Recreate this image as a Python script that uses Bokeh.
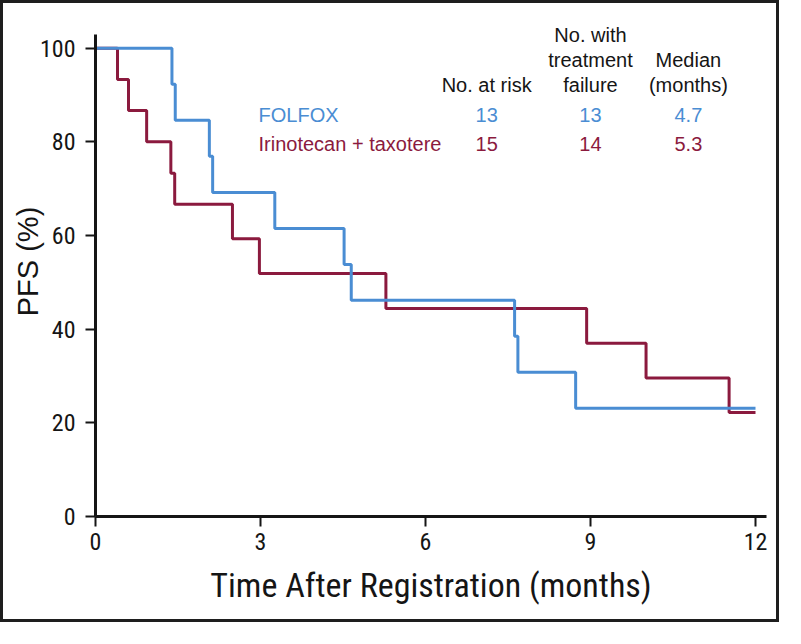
from bokeh.plotting import figure
from bokeh.models import Range1d, Label, FixedTicker
from bokeh.embed import file_html
from bokeh.resources import INLINE

# ---------------- data ----------------
folfox_t = [0, 1.39, 1.45, 2.07, 2.13, 3.26, 4.52, 4.65, 7.62, 7.68, 8.73, 12.0]
folfox_s = [100, 92.3, 84.6, 76.9, 69.2, 61.5, 53.8, 46.2, 38.5, 30.8, 23.1, 23.1]

irino_t = [0, 0.40, 0.60, 0.93, 1.37, 1.44, 2.49, 2.98, 5.28, 8.93, 10.01, 11.52, 12.0]
irino_s = [100, 93.3, 86.7, 80.0, 73.3, 66.7, 59.3, 51.9, 44.4, 37.0, 29.6, 22.2, 22.2]

arms = ["FOLFOX", "Irinotecan + taxotere"]
at_risk = ["13", "15"]
with_failure = ["13", "14"]
medians = ["4.7", "5.3"]
header_risk = ["No. at risk"]
header_fail = ["No. with", "treatment", "failure"]
header_median = ["Median", "(months)"]

x_ticks = [0, 3, 6, 9, 12]
y_ticks = [0, 20, 40, 60, 80, 100]

BLUE = "#4a8dd3"
RED = "#8b1a3e"
INK = "#151515"
SANS = "Liberation Sans"
COND = "Roboto Condensed"

p = figure(width=779, height=622,
           x_range=Range1d(0, 12.2), y_range=Range1d(0, 108.9),
           output_backend="svg", toolbar_location=None,
           min_border_left=92, min_border_right=16,
           min_border_top=3, min_border_bottom=109)
p.styles = {"border": "3px solid #1e1e1e"}
p.outline_line_color = None
p.xgrid.visible = False
p.ygrid.visible = False
p.background_fill_color = "white"
p.border_fill_color = "white"

for ax in (p.xaxis[0], p.yaxis[0]):
    ax.axis_line_width = 3
    ax.axis_line_color = INK
    ax.major_tick_line_width = 2
    ax.major_tick_line_color = INK
    ax.major_tick_out = 10
    ax.major_tick_in = 0
    ax.minor_tick_line_color = None
    ax.major_label_text_color = INK
    ax.major_label_text_font = COND
    ax.major_label_text_font_size = "24px"
    ax.axis_label_text_font_style = "normal"
    ax.axis_label_text_color = INK

p.yaxis.bounds = (0, 103)
p.xaxis.bounds = (0, 12.2)

p.xaxis.ticker = FixedTicker(ticks=x_ticks)
p.yaxis.ticker = FixedTicker(ticks=y_ticks)
p.xaxis.major_label_standoff = 6
p.yaxis.major_label_standoff = 10

p.xaxis.axis_label = "Time After Registration (months)"
p.xaxis.axis_label_text_font = COND
p.xaxis.axis_label_text_font_size = "34px"
p.xaxis.axis_label_standoff = 12

p.yaxis.axis_label = "PFS (%)"
p.yaxis.axis_label_text_font = SANS
p.yaxis.axis_label_text_font_size = "29px"
p.yaxis.axis_label_standoff = -7

p.step(irino_t, irino_s, mode="after", line_color=RED, line_width=3)
p.step(folfox_t, folfox_s, mode="after", line_color=BLUE, line_width=3)

# ---- legend table (positions given in reference pixels, converted to data units) ----
def px_x(px):
    return (px - 97.5) / 56.17

def px_y(py):
    return (529 - py) / 4.8

col_x = [px_x(497), px_x(603), px_x(703)]
row_y = [px_y(117.5), px_y(147.5)]
head_y = [px_y(35.5), px_y(61), px_y(86.5)]

def lab(x, y, text, color=INK, align="center"):
    p.add_layout(Label(x=x, y=y, text=text, text_color=color, text_font=SANS,
                       text_font_size="20px", text_align=align,
                       text_baseline="middle"))

lab(col_x[0], head_y[2], header_risk[0])
for i, t in enumerate(header_fail):
    lab(col_x[1], head_y[i], t)
for i, t in enumerate(header_median):
    lab(col_x[2], head_y[i + 1], t)

colors = [BLUE, RED]
for i in range(2):
    lab(px_x(264), row_y[i], arms[i], colors[i], "left")
    lab(col_x[0], row_y[i], at_risk[i], colors[i])
    lab(col_x[1], row_y[i], with_failure[i], colors[i])
    lab(col_x[2], row_y[i], medians[i], colors[i])

open("out.html", "w").write(file_html(p, INLINE))
